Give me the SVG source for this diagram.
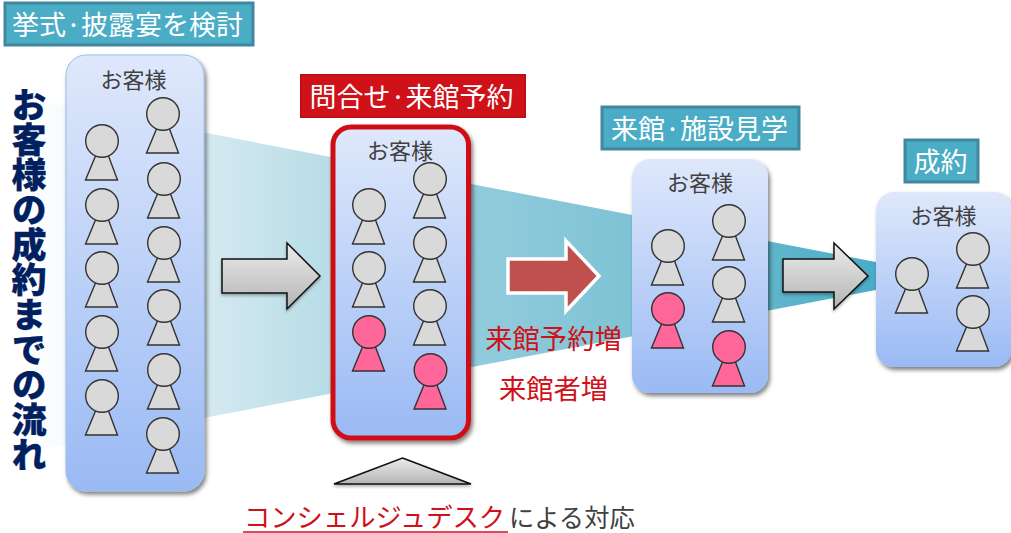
<svg xmlns="http://www.w3.org/2000/svg" xmlns:xlink="http://www.w3.org/1999/xlink" width="1011" height="533" viewBox="0 0 1011 533">
<style>
text{font-family:"Noto Sans CJK JP","Noto Sans",sans-serif}
.lbl{font-size:27px;fill:#fff;text-anchor:middle}
.box-teal{fill:#4bacc6;stroke:#41889f;stroke-width:3}
.box-red{fill:#cf1119;stroke:#c00d16;stroke-width:2}
.panel{fill:url(#panelGrad);filter:url(#shadow)}
.cust{font-size:22px;fill:#404040;text-anchor:middle}
.p{fill:#d9d9d9;stroke:#333;stroke-width:1.4}
.pink{fill:#ff6699}
.red{font-size:27.3px;fill:#cf1119;text-anchor:middle}
.gray-arrow{fill:url(#arrowGrad);stroke:#111;stroke-width:1.5;filter:url(#shadowSm)}
</style>
<defs>
<linearGradient id="panelGrad" x1="0" y1="0" x2="0" y2="1"><stop offset="0" stop-color="#dfe8fb"/><stop offset="1" stop-color="#9abaf4"/></linearGradient>
<linearGradient id="arrowGrad" x1="0" y1="0" x2="0" y2="1"><stop offset="0" stop-color="#ececec"/><stop offset="1" stop-color="#b4b4b4"/></linearGradient>
<linearGradient id="funnelGrad" gradientUnits="userSpaceOnUse" x1="30" y1="0" x2="876" y2="0"><stop offset="0" stop-color="#ffffff"/><stop offset="0.2" stop-color="#d6eaf1"/><stop offset="0.35" stop-color="#b8dde6"/><stop offset="0.52" stop-color="#92ccdc"/><stop offset="0.71" stop-color="#7ec3d5"/><stop offset="0.87" stop-color="#61b6cd"/><stop offset="1" stop-color="#4bacc6"/></linearGradient>
<filter id="shadow" x="-10%" y="-10%" width="125%" height="125%"><feDropShadow dx="2" dy="3" stdDeviation="2" flood-color="#000" flood-opacity="0.5"/></filter>
<filter id="shadowSm" x="-10%" y="-20%" width="125%" height="150%"><feDropShadow dx="0" dy="2" stdDeviation="1.5" flood-color="#000" flood-opacity="0.3"/></filter>
<g id="person"><path d="M96 17 L109 17 L118 41 L86 41 Z" transform="translate(-102.5 -2)"/><circle cx="0" cy="0" r="16.3"/></g>
</defs>

<g id="connectors">
<polygon id="funnel" points="30,99 876,262 876,290 30,451" fill="url(#funnelGrad)"/>
</g>

<g id="label-1"><rect class="box-teal" x="5" y="3" width="248" height="42"/><text class="lbl" x="127.500" y="34.500">挙式·披露宴を検討</text></g>
<g id="label-2"><rect class="box-red" x="301" y="75" width="224" height="42"/><text class="lbl" x="411.500" y="106.500">問合せ·来館予約</text></g>
<g id="label-3"><rect class="box-teal" x="602" y="107" width="197" height="42"/><text class="lbl" x="699.500" y="138.500">来館·施設見学</text></g>
<g id="label-4"><rect class="box-teal" x="905" y="140" width="73" height="42"/><text class="lbl" x="940.500" y="171.500">成約</text></g>

<g id="title"><text x="29" y="87" font-size="35" font-weight="900" fill="#002060" stroke="#002060" stroke-width="0.3" style="writing-mode:vertical-rl;text-anchor:start">お客様の成約までの流れ</text></g>

<g id="panel-1">
<rect class="panel" x="66" y="55" width="138" height="436" rx="20" stroke="#9dbdea"/>
<text class="cust" x="133.500" y="88">お客様</text>
<use href="#person" class="p" x="102" y="141"/><use href="#person" class="p" x="102" y="205"/><use href="#person" class="p" x="102" y="268"/><use href="#person" class="p" x="102" y="332"/><use href="#person" class="p" x="102" y="396"/>
<use href="#person" class="p" x="163" y="114"/><use href="#person" class="p" x="164" y="179"/><use href="#person" class="p" x="164" y="243"/><use href="#person" class="p" x="164" y="306"/><use href="#person" class="p" x="164" y="370"/><use href="#person" class="p" x="163" y="434"/>
</g>

<g id="panel-2">
<rect class="panel" x="333" y="127" width="135.500" height="311" rx="18" stroke="#cf1119" stroke-width="5"/>
<text class="cust" x="400" y="159">お客様</text>
<use href="#person" class="p" x="369" y="205"/><use href="#person" class="p" x="369" y="268"/><use href="#person" class="p pink" x="369" y="332"/>
<use href="#person" class="p" x="430" y="179"/><use href="#person" class="p" x="430" y="243"/><use href="#person" class="p" x="430" y="306"/><use href="#person" class="p pink" x="430.500" y="370"/>
</g>

<g id="panel-3">
<rect class="panel" x="632" y="159" width="136" height="234" rx="18"/>
<text class="cust" x="700" y="191">お客様</text>
<use href="#person" class="p" x="668" y="246"/><use href="#person" class="p pink" x="668" y="309"/>
<use href="#person" class="p" x="729" y="221"/><use href="#person" class="p" x="729" y="283"/><use href="#person" class="p pink" x="729" y="347"/>
</g>

<g id="panel-4">
<rect class="panel" x="876" y="192" width="136" height="175" rx="18"/>
<text class="cust" x="943.500" y="224">お客様</text>
<use href="#person" class="p" x="912" y="274"/>
<use href="#person" class="p" x="973" y="249"/><use href="#person" class="p" x="973" y="312"/>
</g>

<g id="arrows">
<polygon class="gray-arrow" points="222,259 287,259 287,243 320,276 287,309 287,293 222,293"/>
<polygon points="508,259 566,259 566,241 599,276 566,311 566,293 508,293" fill="#c0504d" stroke="#fff" stroke-width="3.500"/>
<polygon class="gray-arrow" points="783,259 834,259 834,243 868,276 834,309 834,292 783,292"/>
<polygon class="gray-arrow" points="402.500,458 471,484 334,484"/>
</g>

<g id="texts">
<text class="red" x="553.500" y="349">来館予約増</text>
<text class="red" x="553.500" y="399">来館者増</text>
<text x="244" y="527" font-size="26.300" fill="#cf1119" style="font-family:'Liberation Sans','Noto Sans CJK JP',sans-serif">コンシェルジュデスク</text>
<line x1="243" y1="532" x2="508" y2="532" stroke="#cf1119" stroke-width="1.500"/>
<text x="509" y="527" font-size="25.300" fill="#404040" style="font-family:'Liberation Sans','Noto Sans CJK JP',sans-serif">による対応</text>
</g>
</svg>
